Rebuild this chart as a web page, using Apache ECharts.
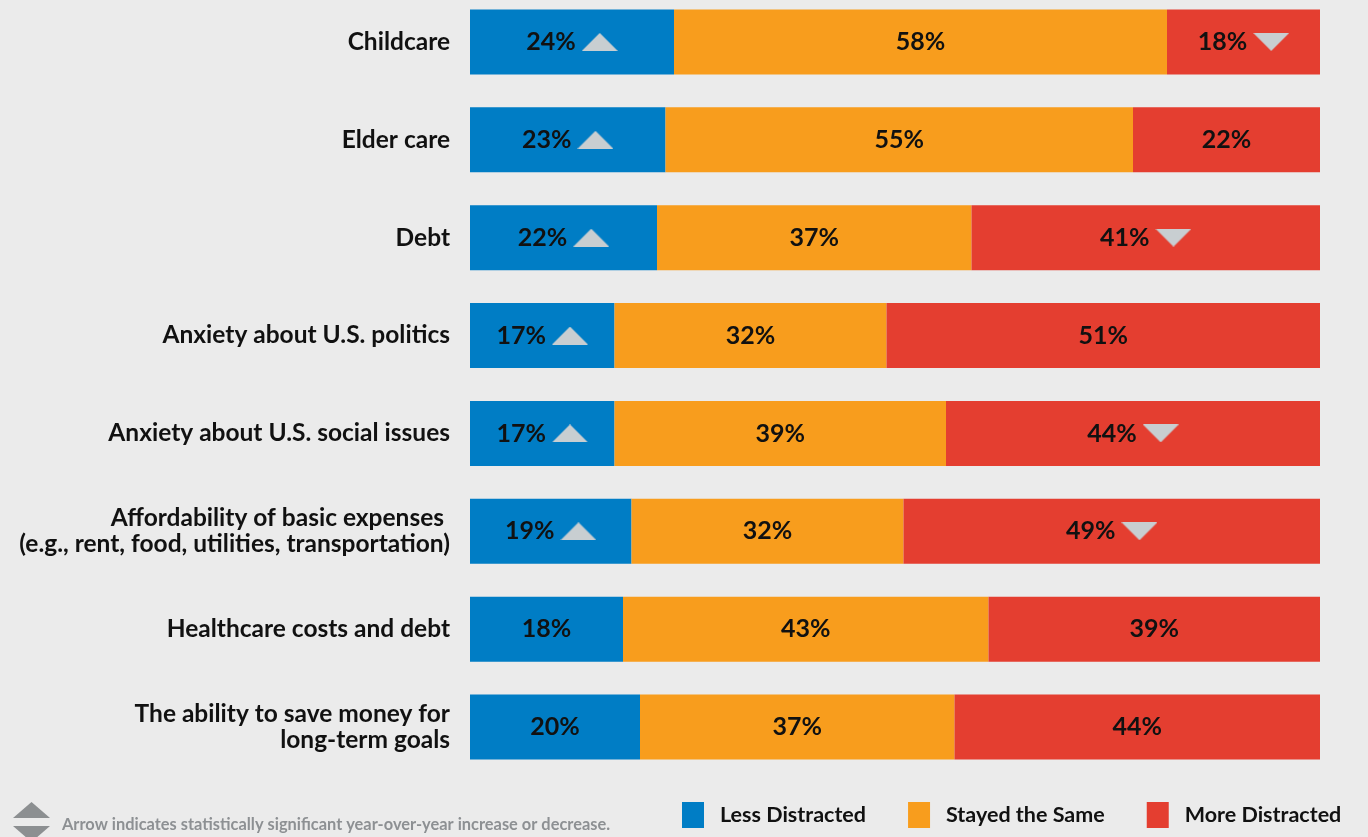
<!DOCTYPE html>
<html>
<head>
<meta charset="utf-8">
<script src="https://cdn.jsdelivr.net/npm/echarts@6/dist/echarts.min.js"></script>
<style>
  html, body { margin: 0; padding: 0; background: #ebebeb; overflow: hidden; }
  /* canvas shifted up slightly so the first row sits close to the top edge */
  #chart { position: absolute; left: 0; top: -7px; width: 1368px; height: 844px; }
</style>
</head>
<body>
<div id="chart"></div>
<script>
// Sources of distraction, share of respondents (%)
const categories = [
  'Childcare',
  'Elder care',
  'Debt',
  'Anxiety about U.S. politics',
  'Anxiety about U.S. social issues',
  'Affordability of basic expenses \n(e.g., rent, food, utilities, transportation)',
  'Healthcare costs and debt',
  'The ability to save money for\nlong-term goals'
];
const lessDistracted = [24, 23, 22, 17, 17, 19, 18, 20];
const stayedSame     = [58, 55, 37, 32, 39, 32, 43, 37];
const moreDistracted = [18, 22, 41, 51, 44, 49, 39, 44];
// Statistically significant year-over-year change markers
const lessTrend = ['up', 'up', 'up', 'up', 'up', 'up', '', ''];
const moreTrend = ['down', '', 'down', '', 'down', 'down', '', ''];
const seriesNames = ['Less Distracted', 'Stayed the Same', 'More Distracted'];
const footnote = 'Arrow indicates statistically significant year-over-year increase or decrease.';

const FONT = 'Lato, "Open Sans", sans-serif';
const OFFSET = 7; // vertical shift of the canvas inside the page

function triangleCanvas(dir, w, h, color) {
  const c = document.createElement('canvas');
  c.width = w; c.height = h;
  const ctx = c.getContext('2d');
  ctx.fillStyle = color;
  ctx.beginPath();
  if (dir === 'up') {
    ctx.moveTo(0, h); ctx.lineTo(w / 2, 0); ctx.lineTo(w, h);
  } else {
    ctx.moveTo(0, 0); ctx.lineTo(w, 0); ctx.lineTo(w / 2, h);
  }
  ctx.closePath();
  ctx.fill();
  return c;
}
const upImg = triangleCanvas('up', 36, 18, '#c8ced1');
const downImg = triangleCanvas('down', 36, 18, '#c8ced1');

const richStyles = {
  v: { fontFamily: FONT, fontSize: 25, fontWeight: 'bold', color: '#111' },
  gap: { width: 6 },
  up: { width: 36, height: 18, backgroundColor: { image: upImg } },
  down: { width: 36, height: 18, backgroundColor: { image: downImg } }
};

function labelFor(trend) {
  return {
    show: true,
    position: 'inside',
    formatter: function (p) {
      const t = trend ? trend[p.dataIndex] : '';
      return t ? '{v|' + p.value + '%}{gap|}{' + t + '|}' : '{v|' + p.value + '%}';
    },
    rich: richStyles
  };
}

function barSeries(name, data, color, trend) {
  return {
    name: name,
    type: 'bar',
    stack: 'total',
    barWidth: 65,
    data: data,
    itemStyle: { color: color },
    label: labelFor(trend),
    emphasis: { disabled: true }
  };
}

const chart = echarts.init(document.getElementById('chart'), null, { renderer: 'canvas' });
chart.setOption({
  backgroundColor: '#ebebeb',
  animation: false,
  grid: { left: 470, right: 48, top: 0, height: 783 },
  xAxis: {
    type: 'value', min: 0, max: 100,
    show: false
  },
  yAxis: {
    type: 'category',
    inverse: true,
    data: categories,
    axisLine: { show: false },
    axisTick: { show: false },
    axisLabel: {
      margin: 20,
      fontFamily: FONT,
      fontSize: 24.5,
      fontWeight: 'bold',
      color: '#111',
      lineHeight: 26,
      align: 'right'
    }
  },
  legend: {
    left: 682,
    top: 802 + OFFSET,
    padding: 0,
    itemWidth: 22,
    itemHeight: 26,
    itemGap: 42,
    icon: 'rect',
    data: seriesNames,
    textStyle: {
      fontFamily: FONT,
      fontSize: 21.5,
      fontWeight: 'bold',
      color: '#111',
      padding: [0, 0, 0, 11]
    },
    selectedMode: false
  },
  graphic: [
    { type: 'polygon', shape: { points: [[13, 818 + OFFSET], [31.5, 802 + OFFSET], [50, 818 + OFFSET]] }, style: { fill: '#8c8f91' } },
    { type: 'polygon', shape: { points: [[13, 826 + OFFSET], [50, 826 + OFFSET], [31.5, 842 + OFFSET]] }, style: { fill: '#8c8f91' } },
    {
      type: 'text', left: 62, top: 817 + OFFSET,
      style: { text: footnote, font: 'bold 16.4px ' + FONT, fill: '#8d9093' }
    }
  ],
  series: [
    barSeries(seriesNames[0], lessDistracted, '#007dc5', lessTrend),
    barSeries(seriesNames[1], stayedSame, '#f89d1d', null),
    barSeries(seriesNames[2], moreDistracted, '#e43e30', moreTrend)
  ]
});
</script>
</body>
</html>
